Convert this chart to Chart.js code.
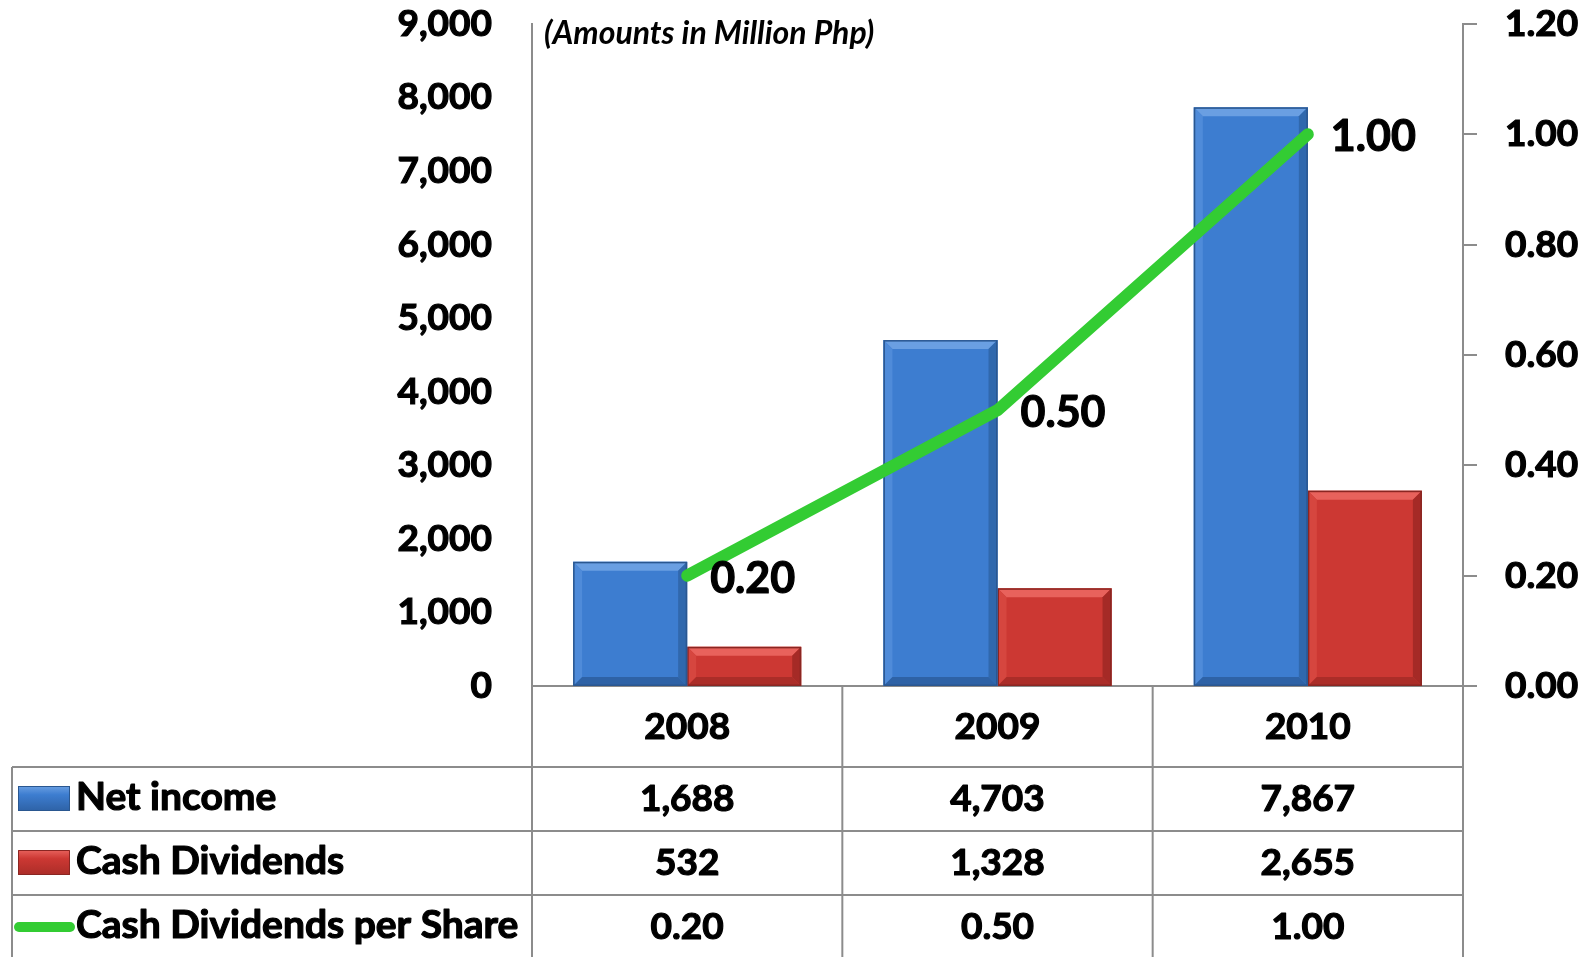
<!DOCTYPE html>
<html>
<head>
<meta charset="utf-8">
<script src="https://cdn.jsdelivr.net/npm/chart.js@4.4.1/dist/chart.umd.min.js"></script>
<style>
    html, body { margin: 0; padding: 0; background: #fff; overflow: hidden; }
    #wrap { width: 1595px; height: 957px; position: relative; }
</style>
</head>
<body>
<div id="wrap"><canvas id="dividendChart"></canvas></div>
<script>
/* ── Data ── */
const years             = ['2008', '2009', '2010'];
const netIncome         = [1688, 4703, 7867];
const cashDividends     = [532, 1328, 2655];
const dividendsPerShare = [0.20, 0.50, 1.00];
const seriesNames       = ['Net income', 'Cash Dividends', 'Cash Dividends per Share'];
const amountTicks       = [0, 1000, 2000, 3000, 4000, 5000, 6000, 7000, 8000, 9000];
const perShareTicks     = [0, 0.2, 0.4, 0.6, 0.8, 1.0, 1.2];
const unitNote          = '(Amounts in Million Php)';

const FONT  = 'Lato, "Open Sans", sans-serif';
const GREY  = '#8c8c8c';
const GREEN = '#33cc33';
const STROKE = 1.2;   // faux-bold to get closer to the heavy Calibri look

const fmtAmount = v => Number(v).toLocaleString('en-US');
const fmtShare  = v => Number(v).toFixed(2);

function boldText(ctx, txt, x, y) {
    ctx.strokeStyle = '#000';
    ctx.lineWidth = STROKE;
    ctx.lineJoin = 'round';
    ctx.strokeText(txt, x, y);
    ctx.fillText(txt, x, y);
}

/* ── Bar bevel (drawn over each bar right after its dataset) ── */
const bevelPlugin = {
    id: 'bevel',
    afterDatasetDraw(chart, args) {
        const ds = chart.data.datasets[args.index];
        if (!ds.bevel) return;
        const { ctx } = chart;
        const p = ds.bevel;
        const s = 9;
        args.meta.data.forEach(bar => {
            const { x, y, base, width } = bar.getProps(['x', 'y', 'base', 'width'], true);
            const l = x - width / 2, r = x + width / 2, t = y, b = base;
            const poly = (pts, col) => {
                ctx.beginPath();
                ctx.moveTo(pts[0][0], pts[0][1]);
                pts.slice(1).forEach(q => ctx.lineTo(q[0], q[1]));
                ctx.closePath();
                ctx.fillStyle = col;
                ctx.fill();
            };
            ctx.save();
            poly([[l, t], [r, t], [r - s, t + s], [l + s, t + s]], p.top);
            poly([[l, t], [l + s, t + s], [l + s, b - s], [l, b]], p.left);
            poly([[r, t], [r, b], [r - s, b - s], [r - s, t + s]], p.right);
            poly([[l, b], [l + s, b - s], [r - s, b - s], [r, b]], p.bottom);
            ctx.strokeStyle = p.edge;
            ctx.lineWidth = 1.5;
            ctx.strokeRect(l + 0.75, t + 0.75, width - 1.5, b - t - 1.5);
            ctx.restore();
        });
    }
};

/* ── Value labels next to the line points + unit note ── */
const labelPlugin = {
    id: 'lineLabels',
    afterDatasetsDraw(chart) {
        const { ctx, chartArea } = chart;
        ctx.save();
        const meta = chart.getDatasetMeta(0);
        ctx.font = `bold 43px ${FONT}`;
        ctx.fillStyle = '#000';
        ctx.textAlign = 'left';
        ctx.textBaseline = 'middle';
        meta.data.forEach((pt, i) => {
            boldText(ctx, fmtShare(dividendsPerShare[i]), pt.x + 23, pt.y + 3);
        });

        ctx.font = `italic bold 32px ${FONT}`;
        ctx.fillText(unitNote, chartArea.left + 12, chartArea.top + 10);
        ctx.restore();
    }
};

/* ── Data table under the x axis ── */
const tablePlugin = {
    id: 'dataTable',
    afterDraw(chart) {
        const { ctx, chartArea, scales: { x } } = chart;
        const step   = x.getPixelForValue(1) - x.getPixelForValue(0);
        const right  = chartArea.right, zeroY = chartArea.bottom;
        const tableX = 12, rowTop = zeroY + 81, rowH = 64, bottom = chart.height;

        ctx.save();
        ctx.strokeStyle = GREY;
        ctx.lineWidth = 2;

        // vertical lines
        const vx = [tableX];
        years.forEach((y, i) => vx.push(x.getPixelForValue(i) - step / 2));
        vx.push(right);
        vx.forEach((px, i) => {
            ctx.beginPath();
            ctx.moveTo(px, i === 0 ? rowTop : (i === 1 || i === vx.length - 1 ? chartArea.top : zeroY));
            ctx.lineTo(px, bottom);
            ctx.stroke();
        });
        // horizontal lines
        for (let r = 0; r < 3; r++) {
            ctx.beginPath();
            ctx.moveTo(tableX, rowTop + r * rowH);
            ctx.lineTo(right, rowTop + r * rowH);
            ctx.stroke();
        }

        // rows
        const rows = [
            { name: seriesNames[0], vals: netIncome.map(fmtAmount) },
            { name: seriesNames[1], vals: cashDividends.map(fmtAmount) },
            { name: seriesNames[2], vals: dividendsPerShare.map(fmtShare) }
        ];
        const keys = chart.data.datasets;
        ctx.textBaseline = 'middle';
        rows.forEach((row, r) => {
            const cy = rowTop + r * rowH + rowH / 2;
            // legend key
            if (r < 2) {
                const ds = keys[r + 1];
                const g = ctx.createLinearGradient(0, cy - 13, 0, cy + 12);
                g.addColorStop(0, ds.bevel.top);
                g.addColorStop(0.35, ds.backgroundColor);
                g.addColorStop(1, ds.bevel.bottom);
                ctx.fillStyle = g;
                ctx.fillRect(18, cy - 13, 52, 25);
                ctx.strokeStyle = ds.bevel.edge;
                ctx.lineWidth = 1;
                ctx.strokeRect(18.5, cy - 12.5, 51, 24);
            } else {
                ctx.strokeStyle = GREEN;
                ctx.lineWidth = 10;
                ctx.lineCap = 'round';
                ctx.beginPath();
                ctx.moveTo(19, cy);
                ctx.lineTo(70, cy);
                ctx.stroke();
                ctx.lineCap = 'butt';
            }
            ctx.fillStyle = '#000';
            ctx.font = `bold 39px ${FONT}`;
            ctx.textAlign = 'left';
            boldText(ctx, row.name, 76, cy - 2);
            ctx.font = `bold 37px ${FONT}`;
            ctx.textAlign = 'center';
            row.vals.forEach((v, i) => boldText(ctx, v, x.getPixelForValue(i), cy));
        });
        ctx.restore();
    }
};

const tickFont = { family: FONT, size: 37, weight: 'bold' };
const noPad = s => { s.paddingTop = 0; s.paddingBottom = 0; };

/* ── Chart ── */
new Chart(document.getElementById('dividendChart'), {
    data: {
        labels: years,
        datasets: [
            {
                type: 'line', label: seriesNames[2], data: dividendsPerShare, yAxisID: 'yShare',
                borderColor: GREEN, borderWidth: 12, borderCapStyle: 'round', borderJoinStyle: 'round',
                pointRadius: 0, tension: 0, order: 0
            },
            {
                type: 'bar', label: seriesNames[0], data: netIncome, yAxisID: 'y',
                backgroundColor: '#3d7dd0', borderWidth: 0, order: 1,
                categoryPercentage: 0.735, barPercentage: 1,
                bevel: { top: '#6a9fe2', left: '#4f8bd9', right: '#3068ad', bottom: '#2e62a6', edge: '#2a5790' }
            },
            {
                type: 'bar', label: seriesNames[1], data: cashDividends, yAxisID: 'y',
                backgroundColor: '#cc3833', borderWidth: 0, order: 1,
                categoryPercentage: 0.735, barPercentage: 1,
                bevel: { top: '#e8625c', left: '#d6463f', right: '#a52a26', bottom: '#ab2d28', edge: '#8a2622' }
            }
        ]
    },
    options: {
        responsive: true, maintainAspectRatio: false, animation: false,
        layout: { padding: { top: 24, left: 0, right: 0, bottom: 0 } },
        plugins: { legend: { display: false }, tooltip: { enabled: false } },
        scales: {
            x: {
                grid: { display: false },
                border: { display: true, color: GREY, width: 2 },
                ticks: { font: tickFont, color: '#000', padding: 11, textStrokeColor: '#000', textStrokeWidth: STROKE },
                afterFit: s => { s.height = 271; s.paddingLeft = 0; s.paddingRight = 0; }
            },
            y: {
                position: 'left', min: 0, max: 9000,
                grid: { display: false },
                border: { display: true, color: GREY, width: 2 },
                afterBuildTicks: s => { s.ticks = amountTicks.map(v => ({ value: v })); },
                ticks: {
                    font: tickFont, color: '#000', padding: 32, textStrokeColor: '#000', textStrokeWidth: STROKE,
                    callback: v => fmtAmount(v)
                },
                afterFit: s => { s.width = 532; noPad(s); }
            },
            yShare: {
                position: 'right', min: 0, max: 1.2,
                grid: { drawOnChartArea: false, tickLength: 14, color: GREY, lineWidth: 2 },
                border: { display: true, color: GREY, width: 2 },
                afterBuildTicks: s => { s.ticks = perShareTicks.map(v => ({ value: v })); },
                ticks: {
                    font: tickFont, color: '#000', padding: 28, textStrokeColor: '#000', textStrokeWidth: STROKE,
                    callback: v => fmtShare(v)
                },
                afterFit: s => { s.width = 132; noPad(s); }
            }
        }
    },
    plugins: [bevelPlugin, labelPlugin, tablePlugin]
});
</script>
</body>
</html>
